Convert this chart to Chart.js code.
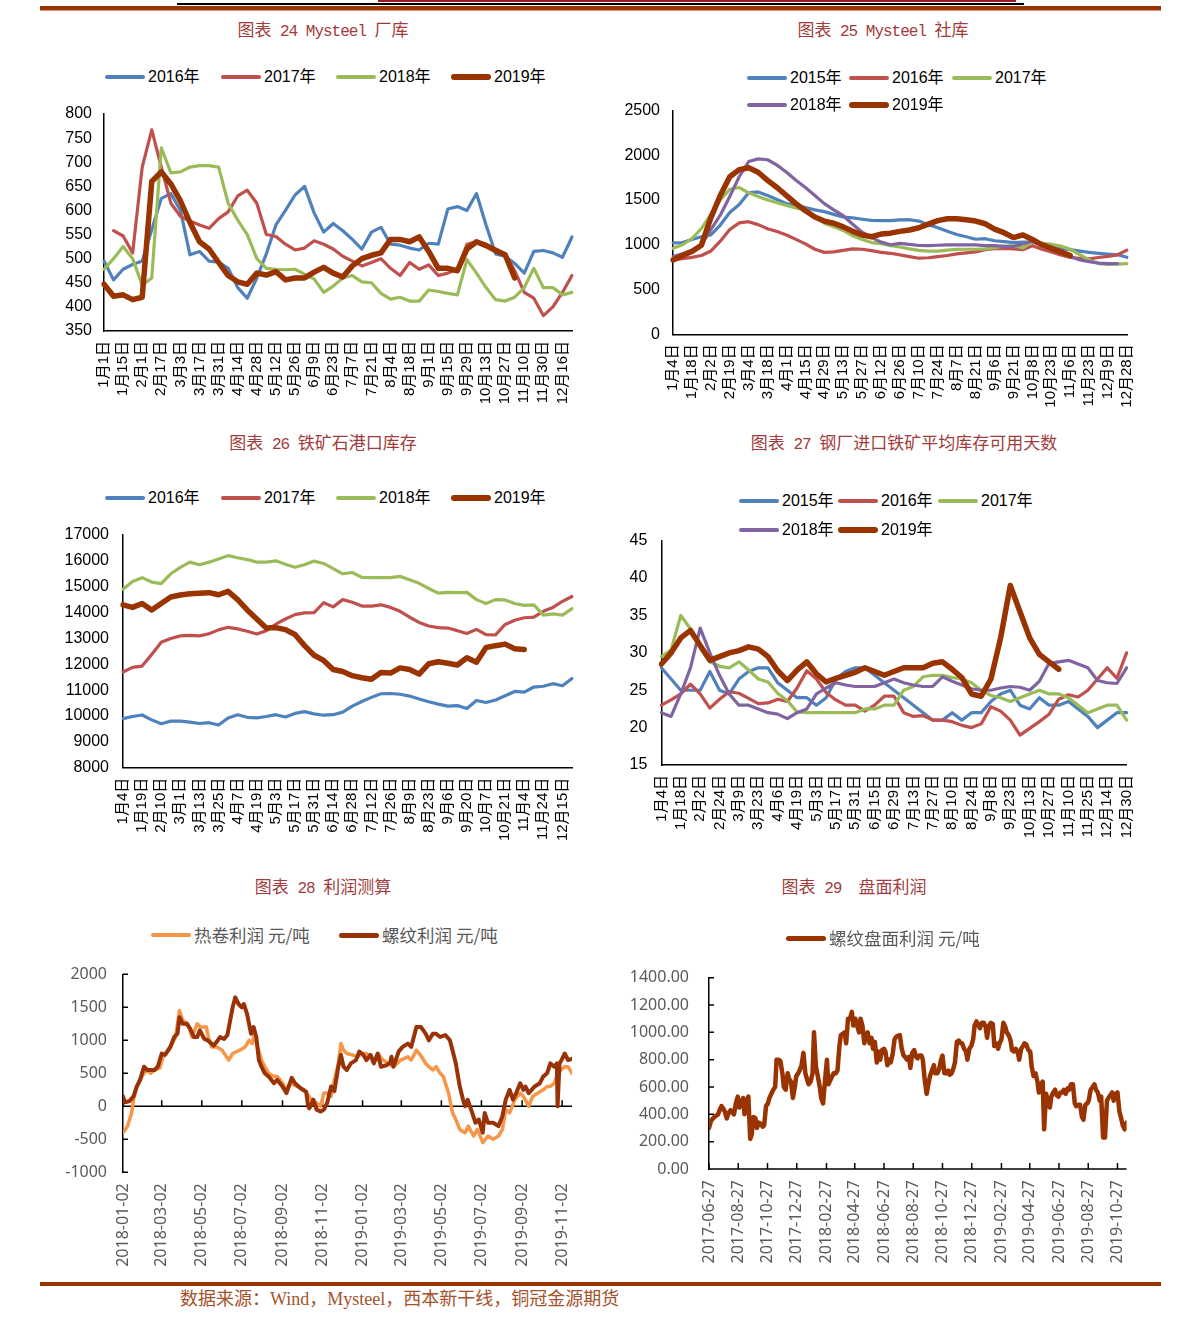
<!DOCTYPE html>
<html lang="zh-CN"><head><meta charset="utf-8"><title>钢铁库存与利润</title>
<script src="https://cdn.jsdelivr.net/npm/chart.js@4.4.1/dist/chart.umd.min.js"></script>
<style>
html,body{margin:0;padding:0;background:#fff;}
body{position:relative;width:1191px;height:1328px;overflow:hidden;}
canvas{position:absolute;}
.bar{position:absolute;}
.title{position:absolute;white-space:nowrap;transform:translate(-50%,-50%);color:#a13c3c;font-family:'Liberation Mono',monospace;font-size:16px;letter-spacing:-1px;line-height:1;}
.title .cj{font-family:'Noto Sans CJK SC',sans-serif;font-size:17px;letter-spacing:0;}
.leg{position:absolute;white-space:nowrap;transform:translateY(-50%);font-family:'Liberation Sans','Noto Sans CJK SC',sans-serif;font-size:16px;line-height:1;color:#000;}
.leg.gray{font-family:'Noto Sans CJK SC',sans-serif;font-size:17.5px;color:#595959;}
.legline{position:absolute;}
.footer{position:absolute;left:180px;top:1299px;transform:translateY(-50%);white-space:nowrap;font-family:'Liberation Serif','Noto Sans CJK SC',serif;font-size:18px;color:#a4522a;line-height:1;}
</style></head><body>
<div class="bar" style="left:378px;top:0;width:638px;height:2px;background:#9b1c24"></div>
<div class="bar" style="left:177px;top:3px;width:847px;height:2px;background:#000"></div>
<div class="bar" style="left:40px;top:6px;width:1121px;height:4px;background:#993300;border-bottom:1px solid #d99a6c"></div>
<div class="bar" style="left:40px;top:1282px;width:1121px;height:4px;background:#993300"></div>
<div class="footer">数据来源：Wind，Mysteel，西本新干线，铜冠金源期货</div>
<script>
// ================= DATA =================
// 图表24 Mysteel 厂库
const millTicks = ['1月1日','1月15日','2月1日','2月17日','3月3日','3月17日','3月31日','4月14日','4月28日','5月12日','5月26日','6月9日','6月23日','7月7日','7月21日','8月4日','8月18日','9月1日','9月15日','9月29日','10月13日','10月27日','11月10日','11月30日','12月16日'];
const millSeries = ['2016年','2017年','2018年','2019年'];
const mill2016 = [495,456,478,488,495,560,625,635,600,508,515,495,493,480,440,418,460,510,570,600,632,650,595,555,573,558,540,520,555,565,530,528,522,518,532,530,603,608,600,635,570,510,505,490,470,515,517,512,503,545];
const mill2017 = [null,558,547,512,690,767,690,615,588,578,570,563,583,597,630,642,615,550,546,530,518,522,537,530,520,505,495,485,492,500,480,465,492,478,487,465,470,478,530,535,530,520,510,475,430,418,382,400,430,465];
const mill2018 = [478,500,525,500,445,460,730,678,680,690,693,693,690,615,580,550,500,480,478,477,478,468,458,430,443,460,465,452,450,428,416,420,412,412,435,432,428,425,498,470,440,415,412,420,440,480,440,440,425,430];
const mill2019 = [447,422,425,415,420,660,680,655,620,575,535,520,492,465,452,447,470,466,473,456,460,460,472,482,470,462,485,500,507,512,540,540,535,545,515,480,480,475,520,535,527,517,508,460];

// 图表25 Mysteel 社库
const socialTicks = ['1月4日','1月18日','2月2日','2月19日','3月4日','3月18日','4月1日','4月15日','4月29日','5月13日','5月27日','6月12日','6月26日','7月10日','7月24日','8月7日','8月21日','9月6日','9月21日','10月8日','10月23日','11月6日','11月23日','12月9日','12月28日'];
const socialSeries = ['2015年','2016年','2017年','2018年','2019年'];
const social2015 = [1020,1025,1060,1090,1110,1220,1360,1450,1580,1590,1550,1505,1460,1440,1415,1390,1370,1340,1310,1300,1285,1272,1270,1270,1278,1280,1265,1225,1190,1150,1115,1090,1062,1068,1045,1035,1025,1030,1030,1005,990,960,945,930,915,905,895,888,860];
const social2016 = [830,845,860,880,930,1040,1170,1245,1258,1225,1180,1148,1110,1060,1010,950,915,920,938,955,950,935,915,905,888,868,850,855,868,880,898,910,920,945,958,960,955,945,990,950,920,885,858,848,842,858,870,888,940];
const social2017 = [960,1000,1070,1180,1340,1500,1620,1640,1580,1540,1500,1470,1440,1410,1395,1320,1240,1200,1160,1100,1060,1025,1012,990,975,955,938,930,930,940,948,950,950,955,968,985,990,965,1035,1020,1005,985,950,890,830,790,780,785,790];
const social2018 = [870,900,940,1000,1170,1330,1540,1760,1930,1960,1950,1890,1810,1720,1640,1550,1460,1390,1325,1230,1140,1080,1030,1000,1015,1005,992,990,995,1000,1000,1000,998,990,990,982,980,1010,1040,990,955,915,870,830,812,795,790,790];
const social2019 = [830,880,925,995,1300,1550,1760,1840,1860,1810,1720,1640,1550,1460,1380,1310,1265,1240,1200,1150,1110,1090,1120,1130,1150,1165,1190,1230,1270,1290,1290,1280,1265,1235,1175,1135,1080,1110,1060,1000,960,920,880];

// 图表26 铁矿石港口库存
const portTicks = ['1月4日','1月19日','2月10日','3月1日','3月13日','3月25日','4月7日','4月19日','5月3日','5月17日','5月31日','6月14日','6月28日','7月12日','7月26日','8月9日','8月23日','9月6日','9月20日','10月7日','10月21日','11月4日','11月24日','12月15日'];
const portSeries = ['2016年','2017年','2018年','2019年'];
const port2016 = [9900,9980,10040,9850,9700,9800,9800,9760,9710,9740,9650,9920,10050,9950,9930,9980,10050,9960,10100,10170,10080,10030,10050,10150,10380,10560,10720,10860,10870,10840,10770,10660,10550,10460,10380,10400,10290,10600,10520,10620,10780,10950,10920,11120,11150,11250,11170,11450];
const port2017 = [11700,11880,11930,12380,12850,13000,13100,13120,13100,13180,13330,13430,13370,13280,13170,13300,13550,13750,13920,13990,14000,14380,14220,14500,14400,14250,14250,14300,14200,14050,13820,13620,13480,13420,13400,13300,13190,13350,13150,13140,13540,13700,13800,13820,14050,14200,14430,14620];
const port2018 = [14900,15200,15350,15180,15120,15500,15750,15950,15850,15950,16070,16200,16120,16050,15950,15950,16000,15870,15750,15850,15990,15900,15700,15500,15550,15360,15350,15350,15350,15400,15270,15130,14930,14750,14780,14770,14780,14500,14350,14500,14490,14350,14280,14300,13900,13950,13900,14150];
const port2019 = [14300,14200,14350,14100,14350,14600,14680,14730,14750,14770,14690,14820,14500,14100,13750,13400,13420,13340,13150,12720,12350,12150,11800,11720,11560,11480,11420,11680,11660,11860,11800,11620,12020,12100,12040,11970,12250,12080,12650,12720,12780,12600,12570];

// 图表27 钢厂进口铁矿平均库存可用天数
const daysTicks = ['1月4日','1月18日','2月2日','2月24日','3月9日','3月23日','4月6日','4月19日','5月3日','5月17日','5月31日','6月15日','6月29日','7月13日','7月27日','8月10日','8月24日','9月8日','9月23日','10月13日','10月27日','11月10日','11月25日','12月14日','12月30日'];
const daysSeries = ['2015年','2016年','2017年','2018年','2019年'];
const days2015 = [28,26.5,25,25,25,27.5,25,24.5,26.5,27.5,28,28,26,25,24,24,23,24,26.5,27.5,28,28,27,26,25,24,23,22,21,21,22,21,22,22,23.5,24.5,25,23,22.5,24,23,23,23.5,22.5,21.5,20,21,22,22];
const days2016 = [23,23.7,24.5,25.8,24.5,22.6,23.8,24.8,24.6,23.9,23.2,23.3,23.8,23.5,25.3,27.6,26.5,24.7,23.7,23,23,22.2,23,24.2,24.2,22,21.5,21.6,21,21,20.8,20.3,20,20.5,22.8,22.2,21,19,19.9,20.8,21.8,23.8,24.4,24.1,25,26.5,28,26.6,30];
const days2017 = [29.5,30.4,35,33.2,30.6,28.8,28.2,28,28.8,27.7,26.5,26.1,24.6,23.6,22.1,22,22,22,22,22,22,22.5,22.5,23,23,25,25.5,26.8,27,27,26.7,26.5,26,25,24.3,24,23.5,24,24.5,25,24.5,24.5,24,23,22,22.5,23,23,21];
const days2018 = [22,21.5,24.5,28,33.3,30,27,24.5,23,23,22.5,22,21.8,21.2,22,22.5,24.5,25.3,26,25.7,25.5,25.5,25.5,26,26.5,26,25.7,25.5,25.5,26.8,26.2,25.7,25.2,25,25,25.3,25.5,25.4,25,26.2,28.6,28.8,29,28.5,28,26.3,26,25.9,28];
const days2019 = [28.5,30,32,33,31,29,29.5,30,30.3,30.8,30.5,29.5,27.6,26.3,27.7,28.8,27.2,26.1,26.6,27,27.4,28,27.5,27,27.5,28,28,28,28.6,28.8,27.8,26.7,24.5,24.2,26.5,32,39,35.5,32,29.8,28.8,27.8];

// 图表28 利润测算 (day offsets from 2018-01-02)
const profitStart = '2018-01-02';
const profitTickDates = ['2018-01-02','2018-03-02','2018-05-02','2018-07-02','2018-09-02','2018-11-02','2019-01-02','2019-03-02','2019-05-02','2019-07-02','2019-09-02','2019-11-02'];
const profitSeries = ['热卷利润 元/吨','螺纹利润 元/吨'];
const hotCoilDay = [0,7,13,16,21,26,32,37,42,48,56,61,70,75,80,86,91,99,105,113,118,127,130,135,143,151,161,167,178,186,192,197,200,205,211,216,222,230,235,243,249,254,265,276,287,295,301,306,311,317,322,328,332,336,341,349,358,363,371,377,385,390,396,404,412,423,434,439,447,455,461,466,472,477,483,488,496,502,507,513,521,526,534,540,548,556,564,572,578,583,589,597,605,610,618,624,632,640,646,651,657,662,667,673,678,684];
const hotCoilProfit = [-400,-300,-100,100,300,400,500,550,500,550,580,750,850,950,1050,1450,1300,1250,1050,1250,1200,1200,1050,900,900,850,700,800,850,900,1000,950,1100,900,700,600,500,450,450,350,250,350,300,250,100,50,0,200,200,150,400,650,950,850,800,780,750,800,800,750,700,780,700,650,600,700,750,700,850,750,650,600,550,600,500,450,200,-100,-200,-350,-400,-300,-450,-350,-550,-450,-500,-450,-350,-50,-100,100,200,150,0,150,200,250,300,300,350,500,550,600,600,500];
const rebarDay = [0,3,10,16,21,26,32,37,48,53,59,64,72,78,83,86,91,97,102,108,113,117,124,129,138,143,148,154,159,167,171,176,181,184,189,195,199,203,207,211,216,222,230,235,243,249,257,262,271,279,282,284,290,295,301,306,311,317,322,328,332,336,341,347,355,360,366,371,377,382,388,393,401,407,409,412,420,426,434,439,447,454,461,466,472,477,483,491,498,502,507,513,518,521,525,532,537,542,548,551,556,564,572,578,583,589,594,599,605,610,613,618,627,635,640,646,651,657,661,662,665,668,673,678,684];
const rebarProfit = [150,60,80,150,300,400,600,550,550,600,800,780,900,1050,1100,1350,1250,1250,1180,1050,1050,1150,1020,1000,920,980,1050,1020,1080,1500,1650,1550,1500,1550,1400,1100,1200,1050,700,600,500,450,350,400,300,200,430,350,270,220,0,-30,100,-50,-80,-50,50,300,230,600,780,600,550,650,700,830,780,700,780,650,800,600,620,660,750,600,830,900,950,900,1200,1200,1100,1000,1100,1100,1050,1080,1000,850,650,300,100,0,100,-100,-250,-200,-400,-100,-250,-250,-300,-150,100,250,100,200,350,250,300,200,300,350,450,500,650,600,650,0,650,700,800,700,720];

// 图表29 盘面利润 (day offsets from 2017-06-27)
const futuresStart = '2017-06-27';
const futuresTickDates = ['2017-06-27','2017-08-27','2017-10-27','2017-12-27','2018-02-27','2018-04-27','2018-06-27','2018-08-27','2018-10-27','2018-12-27','2019-02-27','2019-04-27','2019-06-27','2019-08-27','2019-10-27'];
const futuresSeries = ['螺纹盘面利润 元/吨'];
const futuresDay = [0,4,7,11,15,19,22,26,30,33,37,41,45,48,52,56,60,63,67,71,74,78,82,86,89,93,97,100,104,108,112,115,119,123,126,130,134,138,141,145,149,153,156,160,164,167,171,175,179,182,186,190,193,197,201,205,208,212,216,219,223,227,231,234,238,242,246,249,253,257,260,264,268,272,275,279,283,286,290,294,298,301,305,309,313,316,320,324,327,331,335,339,342,346,350,353,357,361,365,368,372,376,379,383,387,391,394,398,402,406,409,413,417,420,424,428,432,435,439,443,446,450,454,458,461,465,469,472,476,480,484,487,491,495,499,502,506,510,513,517,521,525,528,532,536,539,543,547,551,554,558,562,565,569,573,577,580,584,588,592,595,599,603,606,610,614,618,621,625,629,632,636,640,644,647,651,655,658,662,666,670,673,677,681,685,688,692,696,699,703,707,711,714,718,722,725,729,733,737,740,744,748,751,755,759,763,766,770,774,778,781,785,789,792,796,800,804,807,811,815,818,822,826,830,833,837,841,844,848,852,856,859,863,867,871];
const futuresProfit = [300,350,365,380,390,400,430,460,440,420,370,410,430,420,400,480,530,450,480,520,400,500,530,220,250,380,370,300,340,330,310,320,460,480,520,550,580,600,800,800,790,700,600,580,700,660,640,520,600,680,700,730,760,850,700,650,620,640,700,1000,750,680,600,520,480,650,800,620,650,680,700,700,720,900,980,990,1000,920,1100,1100,1150,1050,1100,1050,1000,1100,1050,920,980,1000,920,960,880,930,780,860,800,870,880,860,760,800,780,840,950,970,975,980,880,830,820,800,820,740,850,870,820,810,830,830,800,650,550,630,680,720,760,700,700,730,800,830,700,700,720,690,700,740,780,930,940,920,920,880,860,800,880,900,950,1050,1080,1050,1030,1070,1070,1040,960,1050,1070,1060,900,920,880,920,950,1070,1040,1000,980,940,870,860,880,850,800,880,900,920,910,870,860,750,680,700,640,560,620,640,290,550,500,450,530,560,580,540,530,560,560,580,550,590,580,620,620,480,460,470,470,380,360,470,480,500,580,600,620,580,560,500,530,230,230,500,520,540,560,500,550,560,420,380,320,290,340];

// ================= RENDER =================
const COL = {blue:'#4f81bd', red:'#c0504d', green:'#9bbb59', purple:'#8064a2', brown:'#993300', orange:'#f79646'};
const FONT_SANS = "'Liberation Sans','Noto Sans CJK SC',sans-serif";
Chart.defaults.font.family = FONT_SANS;
Chart.defaults.color = '#000';

function title(text, cx, cy) {
  const d = document.createElement('div');
  d.className = 'title';
  d.innerHTML = text.replace(/([\u3000-\u9fff\uff00-\uffef]+)/g, '<span class="cj">$1</span>');
  d.style.left = cx + 'px'; d.style.top = cy + 'px';
  document.body.appendChild(d);
}
function legendItem(x, y, color, thick, text, cls) {
  const l = document.createElement('div');
  l.className = 'legline';
  Object.assign(l.style, {left: x + 'px', top: (y - thick / 2) + 'px', width: '40px', height: thick + 'px', background: color, borderRadius: (thick / 2) + 'px'});
  document.body.appendChild(l);
  const t = document.createElement('div');
  t.className = 'leg' + (cls ? ' ' + cls : '');
  t.textContent = text;
  t.style.left = (x + 43) + 'px'; t.style.top = y + 'px';
  document.body.appendChild(t);
}
function spreadLabels(ticks, n) {
  const out = [];
  for (let i = 0; i < n; i++) out.push(i % 2 === 0 ? (ticks[i / 2] || '') : '');
  return out;
}
function dayDiff(a, b) { return Math.round((Date.parse(b) - Date.parse(a)) / 86400000); }
function zip(xs, ys) { const n = Math.min(xs.length, ys.length); const o = []; for (let i = 0; i < n; i++) o.push({x: xs[i], y: ys[i]}); return o; }

function build(o) {
  const c = document.createElement('canvas');
  c.width = o.w; c.height = o.h;
  Object.assign(c.style, {left: o.left + 'px', top: o.top + 'px', width: o.w + 'px', height: o.h + 'px'});
  document.body.appendChild(c);
  const yW = o.area.l, xH = o.h - o.area.b;
  o.x.afterFit = s => { s.height = xH; s.paddingLeft = 0; s.paddingRight = 0; s.paddingTop = 0; s.paddingBottom = 0; };
  o.y.afterFit = s => { s.width = yW; s.paddingLeft = 0; s.paddingRight = 0; s.paddingTop = 0; s.paddingBottom = 0; };
  return new Chart(c, {
    type: 'line',
    data: {labels: o.labels, datasets: o.datasets},
    options: {
      responsive: false, animation: false, devicePixelRatio: 1,
      layout: {padding: {left: 0, top: o.area.t, right: o.w - o.area.r, bottom: 0}},
      plugins: {legend: {display: false}, tooltip: {enabled: false}},
      elements: {point: {radius: 0}, line: {tension: 0, borderJoinStyle: 'round', borderCapStyle: 'round'}},
      scales: {x: o.x, y: o.y}
    },
    plugins: o.plugins || []
  });
}
function ds(label, data, color, width, order) {
  return {label, data, borderColor: color, backgroundColor: color, borderWidth: width, fill: false, order, spanGaps: false};
}
function catX() {
  return {type: 'category', offset: false, grid: {display: false, drawTicks: false},
    border: {display: true, color: '#000', width: 1.5},
    ticks: {autoSkip: false, maxRotation: 90, minRotation: 90, padding: 10, color: '#000', font: {family: FONT_SANS, size: 15}}};
}
function valY(min, max, step, pad) {
  return {type: 'linear', min, max, grid: {display: false, drawTicks: false},
    border: {display: true, color: '#000', width: 1.5},
    ticks: {stepSize: step, padding: pad, color: '#000', font: {family: FONT_SANS, size: 16}, callback: v => String(v)}};
}
const axisMarks = {
  id: 'axisMarks',
  beforeDatasetsDraw(chart) {
    const {ctx, chartArea: a, scales: {x, y}} = chart;
    const y0 = y.getPixelForValue(0);
    ctx.save();
    ctx.strokeStyle = '#000'; ctx.lineWidth = 1.5;
    ctx.beginPath();
    ctx.moveTo(a.left, y0); ctx.lineTo(a.right, y0);
    x.ticks.forEach(t => { const px = x.getPixelForValue(t.value); ctx.moveTo(px, y0); ctx.lineTo(px, y0 - 6); });
    y.ticks.forEach(t => { const py = y.getPixelForValue(t.value); ctx.moveTo(a.left, py); ctx.lineTo(a.left + 5, py); });
    ctx.stroke();
    ctx.restore();
  }
};

// ---- 图表24
title('图表 24 Mysteel 厂库', 323, 30);
{
  const colors = [COL.blue, COL.red, COL.green, COL.brown];
  const data = [mill2016, mill2017, mill2018, mill2019];
  const n = Math.max(...data.map(d => d.length));
  build({left: 40, top: 100, w: 560, h: 320, area: {l: 64, t: 14, r: 532, b: 231},
    labels: spreadLabels(millTicks, n),
    datasets: data.map((d, i) => ds(millSeries[i], d, colors[i], i === 3 ? 5.5 : 3.2, data.length - i)),
    x: catX(), y: valY(350, 800, 50, 12)});
  const xs = [105, 221, 336, 451];
  millSeries.forEach((s, i) => legendItem(xs[i], 77, colors[i], i === 3 ? 6 : 4, s));
}
// ---- 图表25
title('图表 25 Mysteel 社库', 883, 30);
{
  const colors = [COL.blue, COL.red, COL.green, COL.purple, COL.brown];
  const data = [social2015, social2016, social2017, social2018, social2019];
  const n = Math.max(...data.map(d => d.length));
  build({left: 600, top: 90, w: 560, h: 330, area: {l: 73, t: 20.5, r: 527, b: 244.3},
    labels: spreadLabels(socialTicks, n),
    datasets: data.map((d, i) => ds(socialSeries[i], d, colors[i], i === 4 ? 5.5 : 3.2, data.length - i)),
    x: catX(), y: valY(0, 2500, 500, 13)});
  const pos = [[747, 78], [849, 78], [952, 78], [747, 105], [849, 105]];
  socialSeries.forEach((s, i) => legendItem(pos[i][0], pos[i][1], colors[i], i === 4 ? 6 : 4, s));
}
// ---- 图表26
title('图表 26 铁矿石港口库存', 323, 443);
{
  const colors = [COL.blue, COL.red, COL.green, COL.brown];
  const data = [port2016, port2017, port2018, port2019];
  const n = Math.max(...data.map(d => d.length));
  build({left: 40, top: 520, w: 560, h: 320, area: {l: 83, t: 15, r: 532, b: 247.7},
    labels: spreadLabels(portTicks, n),
    datasets: data.map((d, i) => ds(portSeries[i], d, colors[i], i === 3 ? 5.5 : 3.2, data.length - i)),
    x: catX(), y: valY(8000, 17000, 1000, 14)});
  const xs = [105, 221, 336, 451];
  portSeries.forEach((s, i) => legendItem(xs[i], 498, colors[i], i === 3 ? 6 : 4, s));
}
// ---- 图表27
title('图表 27 钢厂进口铁矿平均库存可用天数', 904, 443);
{
  const colors = [COL.blue, COL.red, COL.green, COL.purple, COL.brown];
  const data = [days2015, days2016, days2017, days2018, days2019];
  const n = Math.max(...data.map(d => d.length));
  build({left: 600, top: 520, w: 560, h: 320, area: {l: 61.4, t: 20.7, r: 526.6, b: 245},
    labels: spreadLabels(daysTicks, n),
    datasets: data.map((d, i) => ds(daysSeries[i], d, colors[i], i === 4 ? 5.5 : 3.2, data.length - i)),
    x: catX(), y: valY(15, 45, 5, 14)});
  const pos = [[739, 501], [838, 501], [938, 501], [739, 530], [838, 530]];
  daysSeries.forEach((s, i) => legendItem(pos[i][0], pos[i][1], colors[i], i === 4 ? 6 : 4, s));
}
// ---- 图表28
title('图表 28 利润测算', 323, 887);
{
  const tickDays = profitTickDates.map(d => dayDiff(profitStart, d));
  const maxDay = Math.max(hotCoilDay[hotCoilDay.length - 1], rebarDay[rebarDay.length - 1]);
  build({left: 40, top: 950, w: 560, h: 320, area: {l: 83, t: 24.3, r: 532, b: 222.3},
    labels: [],
    datasets: [
      ds(profitSeries[0], zip(hotCoilDay, hotCoilProfit), COL.orange, 3.5, 2),
      ds(profitSeries[1], zip(rebarDay, rebarProfit), '#9a3208', 4, 1)
    ],
    x: {type: 'linear', min: 0, max: maxDay, grid: {display: false, drawTicks: false}, border: {display: false},
      afterBuildTicks: s => { s.ticks = tickDays.map(v => ({value: v})); },
      ticks: {autoSkip: false, maxRotation: 90, minRotation: 90, padding: 11, color: '#595959', font: {family: "'Noto Sans',sans-serif", size: 16},
        callback: (v, i) => profitTickDates[i]}},
    y: {type: 'linear', min: -1000, max: 2000, grid: {display: false, drawTicks: false}, border: {display: true, color: '#000', width: 1.5},
      ticks: {stepSize: 500, padding: 16, color: '#595959', font: {family: "'Noto Sans',sans-serif", size: 16}, callback: v => String(v)}},
    plugins: [axisMarks]});
  legendItem(151, 935, COL.orange, 4, profitSeries[0], 'gray');
  legendItem(339, 935, '#9a3208', 5, profitSeries[1], 'gray');
}
// ---- 图表29
title('图表 29　盘面利润', 854, 887);
{
  const tickDays = futuresTickDates.map(d => dayDiff(futuresStart, d));
  build({left: 600, top: 950, w: 560, h: 320, area: {l: 109, t: 27.7, r: 526.6, b: 219},
    labels: [],
    datasets: [ds(futuresSeries[0], zip(futuresDay, futuresProfit), COL.brown, 4.5, 1)],
    x: {type: 'linear', min: 0, max: futuresDay[futuresDay.length - 1], grid: {display: false, drawTicks: false}, border: {display: false},
      afterBuildTicks: s => { s.ticks = tickDays.map(v => ({value: v})); },
      ticks: {autoSkip: false, maxRotation: 90, minRotation: 90, padding: 11, color: '#595959', font: {family: "'Noto Sans',sans-serif", size: 16},
        callback: (v, i) => futuresTickDates[i]}},
    y: {type: 'linear', min: 0, max: 1400, grid: {display: false, drawTicks: false}, border: {display: true, color: '#000', width: 1.5},
      ticks: {stepSize: 200, padding: 20, color: '#595959', font: {family: "'Noto Sans',sans-serif", size: 16}, callback: v => Number(v).toFixed(2)}},
    plugins: [axisMarks]});
  legendItem(786, 938, COL.brown, 5, futuresSeries[0], 'gray');
}
</script>
</body></html>
